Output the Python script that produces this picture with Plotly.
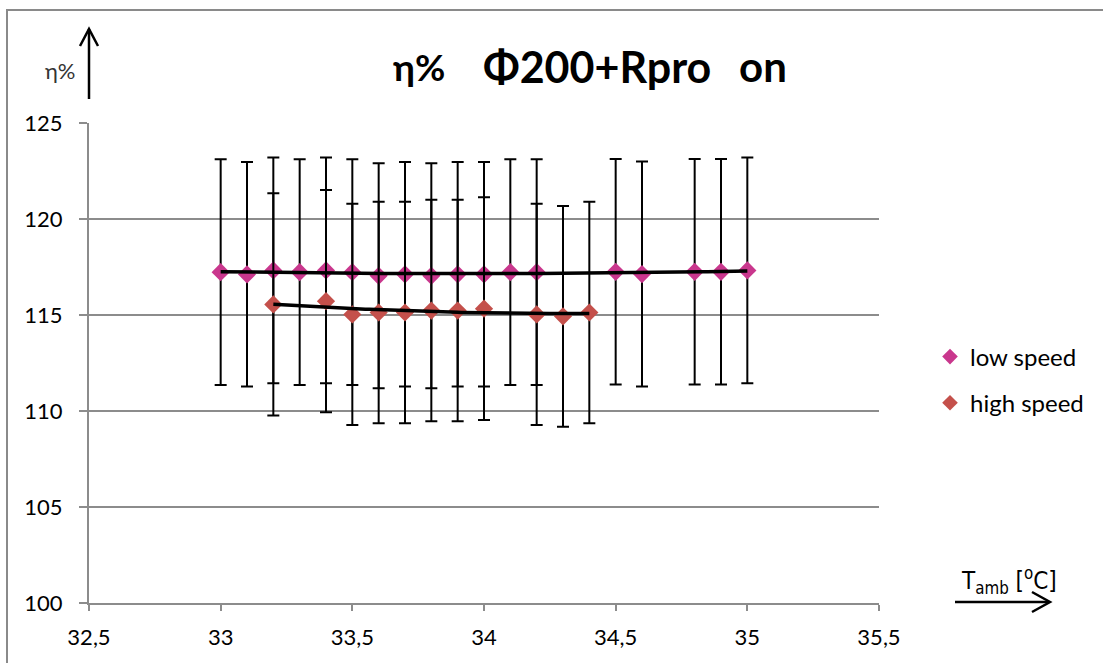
import numpy as np
import plotly.graph_objects as go

# Ambient temperature (°C) and efficiency (%) readings
low_t = [33.0, 33.1, 33.2, 33.3, 33.4, 33.5, 33.6, 33.7, 33.8, 33.9, 34.0, 34.1, 34.2,
         34.5, 34.6, 34.8, 34.9, 35.0]
low_eta = [117.23, 117.12, 117.32, 117.23, 117.32, 117.23, 117.04, 117.12, 117.04, 117.12,
           117.12, 117.23, 117.23, 117.25, 117.13, 117.25, 117.25, 117.32]
low_err = [5.88, 5.85, 5.88, 5.88, 5.88, 5.88, 5.86, 5.85, 5.86, 5.85,
           5.85, 5.88, 5.88, 5.87, 5.86, 5.87, 5.87, 5.88]

high_t = [33.2, 33.4, 33.5, 33.6, 33.7, 33.8, 33.9, 34.0, 34.2, 34.3, 34.4]
high_eta = [115.55, 115.72, 115.03, 115.13, 115.13, 115.23, 115.23, 115.33, 115.03, 114.93, 115.13]
high_err = [5.79, 5.79, 5.76, 5.77, 5.77, 5.77, 5.77, 5.80, 5.76, 5.75, 5.77]

x_ticks = [32.5, 33, 33.5, 34, 34.5, 35, 35.5]
y_ticks = [100, 105, 110, 115, 120, 125]

title_parts = ["η%", "Φ200+Rpro", "on"]

LOW_COLOR = "#C9378D"
HIGH_COLOR = "#C4504B"
GRID = "#8C8C8C"
FONT = "Lato, 'Noto Sans', 'DejaVu Sans', sans-serif"

W, H = 1103, 663
ML, MR, MT, MB = 89, 224, 123, 60
PW, PH = W - ML - MR, H - MT - MB


def px(x):
    return (x - ML) / PW


def py(y):
    return (H - MB - y) / PH


def trend(xs, ys, deg=2):
    coef = np.polyfit(xs, ys, deg)
    xx = np.linspace(min(xs), max(xs), 80)
    return xx, np.polyval(coef, xx)


fig = go.Figure()

for name, xs, ys, errs, color in [
    ("low speed", low_t, low_eta, low_err, LOW_COLOR),
    ("high speed", high_t, high_eta, high_err, HIGH_COLOR),
]:
    fig.add_trace(go.Scatter(
        x=xs, y=ys, mode="markers", name=name, legendgroup=name,
        marker=dict(symbol="diamond", size=14, color=color, line=dict(width=0)),
        error_y=dict(type="data", array=errs, visible=True, color="black",
                     thickness=2, width=6),
    ))

for xs, ys in [(low_t, low_eta), (high_t, high_eta)]:
    tx, ty = trend(xs, ys)
    fig.add_trace(go.Scatter(x=tx, y=ty, mode="lines", showlegend=False,
                             line=dict(color="black", width=3.5), hoverinfo="skip"))

shapes = [
    # chart frame
    dict(type="rect", xref="paper", yref="paper", x0=px(7), x1=px(1112), y0=py(10), y1=py(672),
         line=dict(color="#8A8A8A", width=2), fillcolor="rgba(0,0,0,0)", layer="below"),
    # vertical axis arrow
    dict(type="line", xref="paper", yref="paper", x0=px(89), x1=px(89), y0=py(99), y1=py(29),
         line=dict(color="black", width=2.5)),
    dict(type="path", xref="paper", yref="paper",
         path=f"M {px(80)} {py(46)} L {px(89)} {py(29)} L {px(98)} {py(46)}",
         line=dict(color="black", width=2.5)),
    # horizontal axis arrow
    dict(type="line", xref="paper", yref="paper", x0=px(955), x1=px(1049), y0=py(602), y1=py(602),
         line=dict(color="black", width=2.5)),
    dict(type="path", xref="paper", yref="paper",
         path=f"M {px(1032)} {py(592)} L {px(1050)} {py(602)} L {px(1032)} {py(612)}",
         line=dict(color="black", width=2.5)),
]

annotations = []
# chart title, laid out as three bold words
for text, cx, size in zip(title_parts, [419, 597, 763], [37, 43, 42]):
    annotations.append(dict(text=f"<b>{text}</b>", xref="paper", yref="paper",
                            x=px(cx), y=py(66), xanchor="center", yanchor="middle",
                            showarrow=False, font=dict(family=FONT, size=size, color="black")))

annotations += [
    dict(text="η%", xref="paper", yref="paper", x=px(60), y=py(70),
         xanchor="center", yanchor="middle", showarrow=False,
         font=dict(family=FONT, size=22, color="#333333")),
    dict(text="T<sub>amb</sub> [<sup>o</sup>C]", xref="paper", yref="paper",
         x=px(1009), y=py(580), xanchor="center", yanchor="middle", showarrow=False,
         font=dict(family="'Liberation Sans Narrow', 'DejaVu Sans Condensed', sans-serif",
                   size=24, color="black")),
]

fig.update_layout(
    width=W, height=H,
    margin=dict(l=ML, r=MR, t=MT, b=MB, autoexpand=False),
    paper_bgcolor="white", plot_bgcolor="white",
    separators=", ",
    showlegend=True,
    legend=dict(x=px(930), y=py(380), xanchor="left", yanchor="middle",
                font=dict(family=FONT, size=24, color="black"),
                tracegroupgap=12, itemsizing="constant", bgcolor="rgba(0,0,0,0)"),
    shapes=shapes,
    annotations=annotations,
    xaxis=dict(range=[32.5, 35.5], tickvals=x_ticks, showgrid=False, zeroline=False,
               showline=True, linecolor=GRID, linewidth=2, ticks="outside", ticklen=6,
               tickcolor=GRID, tickwidth=1.5, ticklabelstandoff=8,
               tickfont=dict(family=FONT, size=22, color="black")),
    yaxis=dict(range=[100, 125], tickvals=y_ticks, showgrid=True, gridcolor=GRID, gridwidth=1.5,
               zeroline=False, showline=True, linecolor=GRID, linewidth=2, ticks="outside",
               ticklen=8, tickcolor=GRID, tickwidth=1.5, ticklabelstandoff=12,
               tickfont=dict(family=FONT, size=22, color="black")),
    hovermode=False,
)

fig.write_html("out.html")
